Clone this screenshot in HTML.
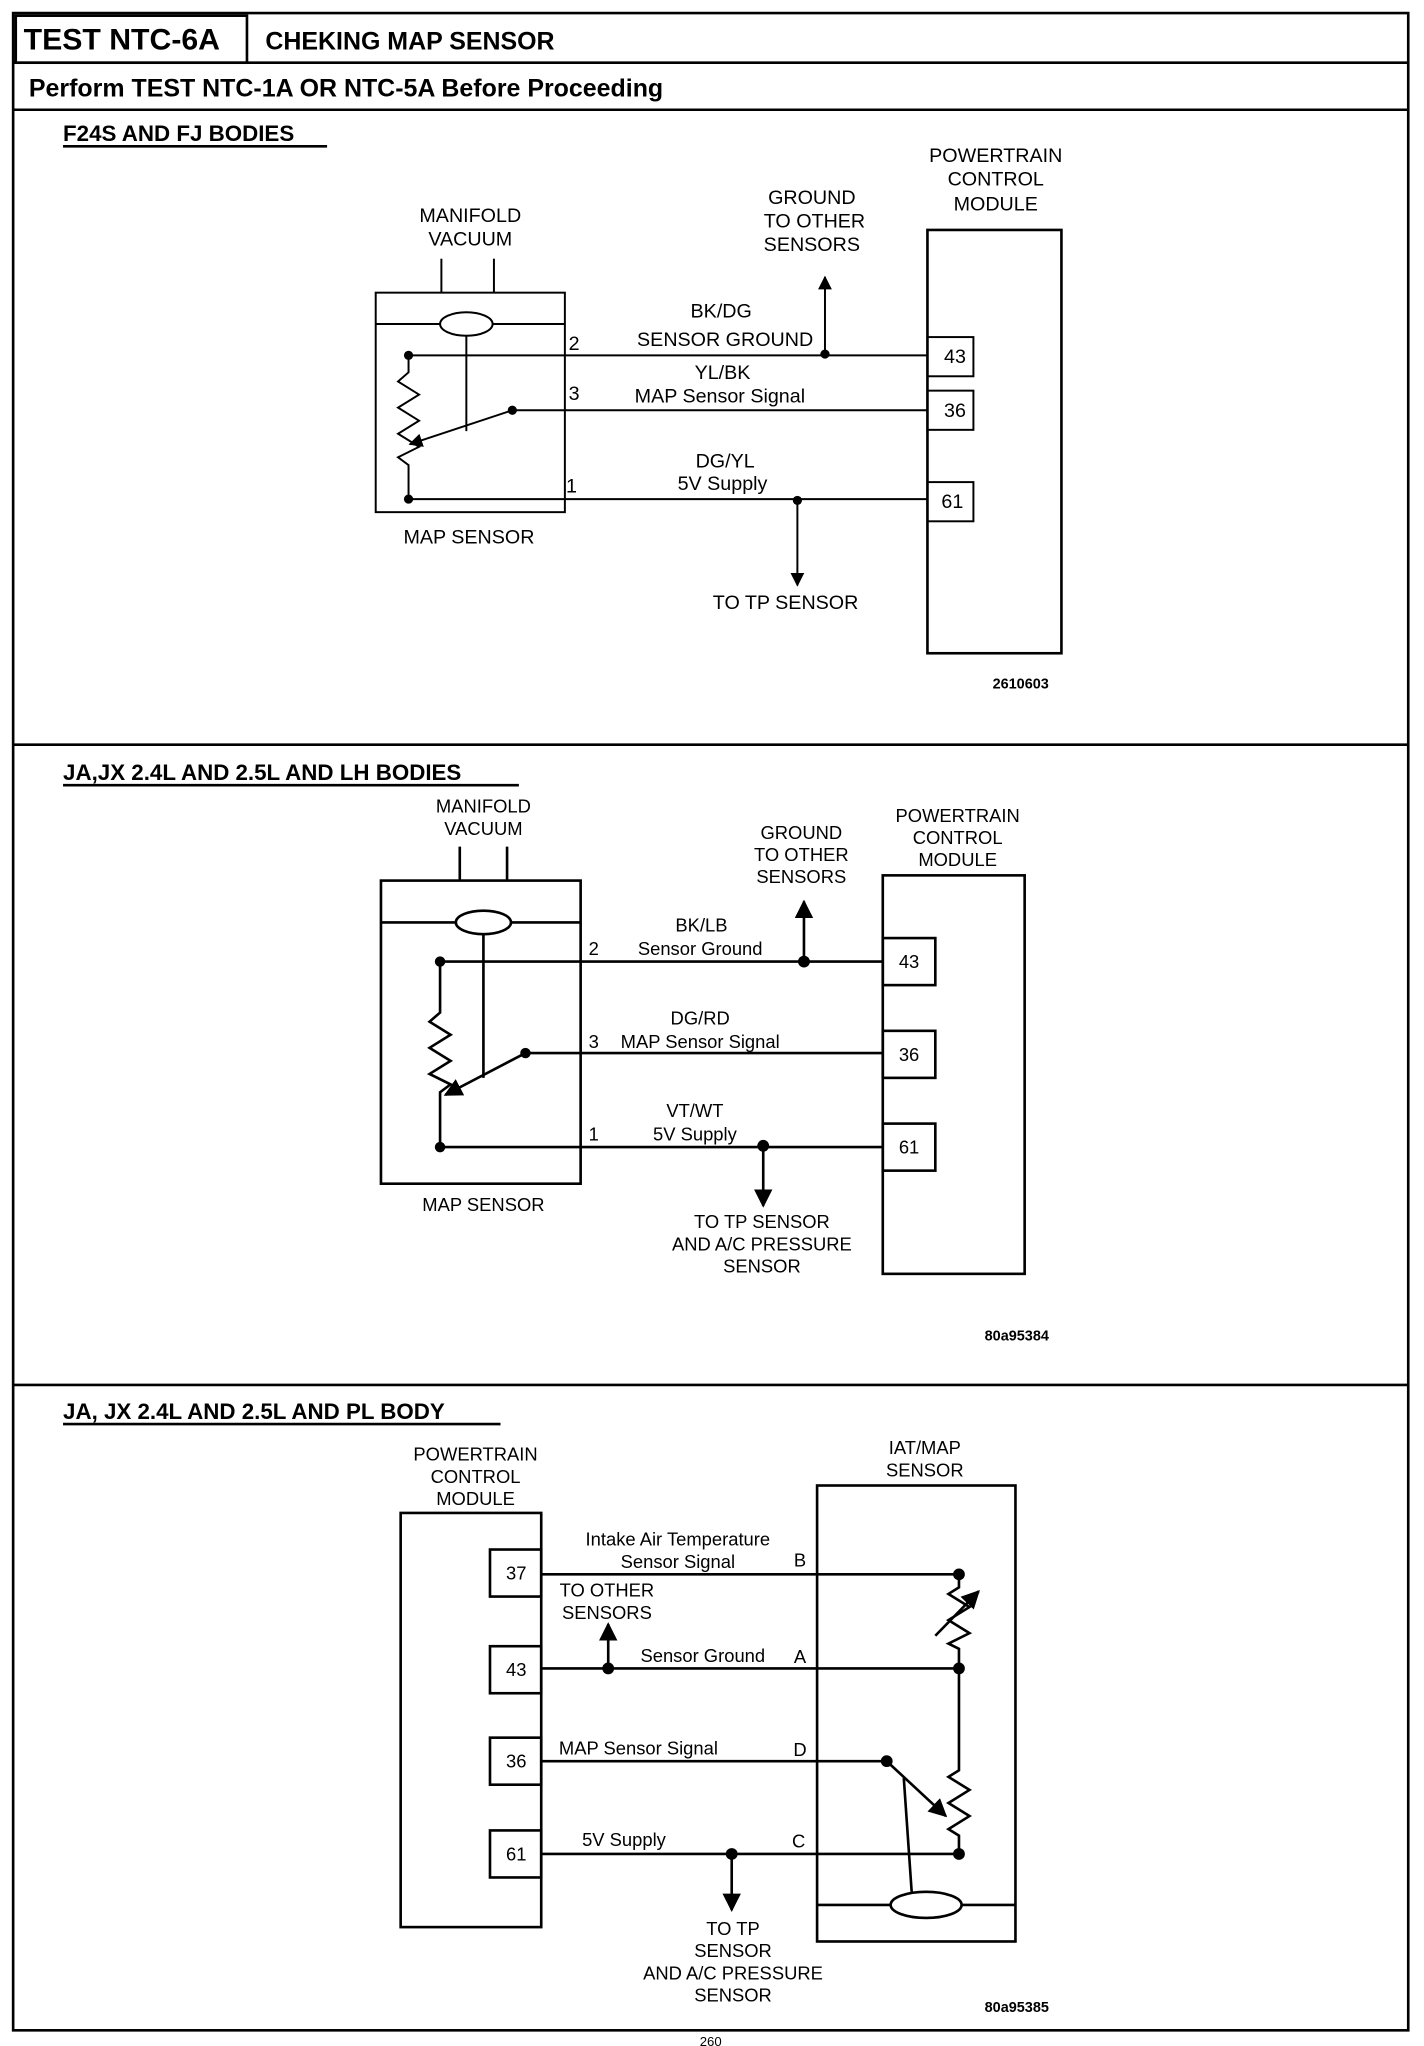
<!DOCTYPE html>
<html><head><meta charset="utf-8"><style>
html,body{margin:0;padding:0;background:#fff}
svg{display:block}
text{font-family:"Liberation Sans",Arial,sans-serif;fill:#000}
</style></head><body>
<svg width="1424" height="2046" viewBox="0 0 1084 1566" preserveAspectRatio="none" xmlns="http://www.w3.org/2000/svg">
<defs>
<marker id="ah" viewBox="0 0 10 10" refX="9" refY="5" markerWidth="7" markerHeight="7" orient="auto-start-reverse"><path d="M0,0 L10,5 L0,10 z" fill="#000"/></marker>
</defs>
<g fill="none" stroke="#000" stroke-width="2">
<rect x="10" y="10" width="1062" height="1544"/>
<rect x="12" y="12" width="176" height="36"/>
<line x1="10" y1="48" x2="1072" y2="48"/>
<line x1="10" y1="84" x2="1072" y2="84"/>
<line x1="10" y1="570" x2="1072" y2="570"/>
<line x1="10" y1="1060" x2="1072" y2="1060"/>
</g>
<text x="18" y="38" font-size="23" font-weight="bold">TEST NTC-6A</text>
<text x="202" y="38" font-size="19" font-weight="bold">CHEKING MAP SENSOR</text>
<text x="22" y="74" font-size="19" font-weight="bold">Perform TEST NTC-1A OR NTC-5A Before Proceeding</text>
<text x="48" y="108" font-size="17" font-weight="bold">F24S AND FJ BODIES</text>
<line x1="48" y1="112" x2="249" y2="112" stroke="#000" stroke-width="2"/>
<text x="48" y="597" font-size="17" font-weight="bold">JA,JX 2.4L AND 2.5L AND LH BODIES</text>
<line x1="48" y1="601" x2="395" y2="601" stroke="#000" stroke-width="2"/>
<text x="48" y="1086" font-size="17" font-weight="bold">JA, JX 2.4L AND 2.5L AND PL BODY</text>
<line x1="48" y1="1090" x2="381" y2="1090" stroke="#000" stroke-width="2"/>

<!-- Panel 1 -->
<g fill="none" stroke="#000" stroke-width="1.5">
<rect x="286" y="224" width="144" height="168"/>
<line x1="336" y1="198" x2="336" y2="224"/><line x1="376" y1="198" x2="376" y2="224"/>
<line x1="286" y1="248" x2="430" y2="248"/>
<ellipse cx="355" cy="248" rx="20" ry="9" fill="#fff"/>
<line x1="355" y1="257" x2="355" y2="330"/>
<polyline points="311,272 311,285 303,292 319,302 303,312 319,322 303,332 319,342 303,350 311,356 311,382"/>
<line x1="390" y1="314" x2="312" y2="340" marker-end="url(#ah)"/>
<line x1="311" y1="272" x2="706" y2="272"/>
<line x1="390" y1="314" x2="706" y2="314"/>
<line x1="311" y1="382" x2="706" y2="382"/>
<rect x="706" y="176" width="102" height="324" stroke-width="2"/>
<rect x="706" y="258" width="35" height="30"/><rect x="706" y="299" width="35" height="30"/><rect x="706" y="369" width="35" height="30"/>
<line x1="628" y1="271" x2="628" y2="212" marker-end="url(#ah)"/>
<line x1="607" y1="383" x2="607" y2="448" marker-end="url(#ah)"/>
</g>
<g fill="#000"><circle cx="311" cy="272" r="3.5"/><circle cx="311" cy="382" r="3.5"/><circle cx="390" cy="314" r="3.5"/><circle cx="628" cy="271" r="3.5"/><circle cx="607" cy="383" r="3.5"/></g>
<g font-size="15" text-anchor="middle">
<text x="358" y="170">MANIFOLD</text><text x="358" y="188">VACUUM</text>
<text x="618" y="156">GROUND</text><text x="620" y="174">TO OTHER</text><text x="618" y="192">SENSORS</text>
<text x="758" y="124">POWERTRAIN</text><text x="758" y="142">CONTROL</text><text x="758" y="161">MODULE</text>
<text x="549" y="243">BK/DG</text><text x="552" y="265">SENSOR  GROUND</text>
<text x="550" y="290">YL/BK</text><text x="548" y="308">MAP Sensor Signal</text>
<text x="552" y="358">DG/YL</text><text x="550" y="375">5V Supply</text>
<text x="598" y="466">TO TP SENSOR</text>
<text x="357" y="416">MAP   SENSOR</text>
<text x="437" y="268">2</text><text x="437" y="306">3</text><text x="435" y="377">1</text>
<text x="727" y="278">43</text><text x="727" y="319">36</text><text x="725" y="389">61</text>
<text x="777" y="527" font-size="11" font-weight="bold">2610603</text>
</g>

<!-- Panel 2 -->
<g fill="none" stroke="#000" stroke-width="2">
<rect x="290" y="674" width="152" height="232"/>
<line x1="350" y1="648" x2="350" y2="674"/><line x1="386" y1="648" x2="386" y2="674"/>
<line x1="290" y1="706" x2="442" y2="706"/>
<ellipse cx="368" cy="706" rx="21" ry="9" fill="#fff"/>
<line x1="368" y1="715" x2="368" y2="825"/>
<polyline points="335,736 335,775 327,782 343,792 327,802 343,812 327,822 343,830 335,836 335,878"/>
<line x1="400" y1="806" x2="339" y2="838" marker-end="url(#ah)"/>
<line x1="335" y1="736" x2="672" y2="736"/>
<line x1="400" y1="806" x2="672" y2="806"/>
<line x1="335" y1="878" x2="672" y2="878"/>
<rect x="672" y="670" width="108" height="305"/>
<rect x="672" y="718" width="40" height="36"/><rect x="672" y="789" width="40" height="36"/><rect x="672" y="860" width="40" height="36"/>
<line x1="612" y1="736" x2="612" y2="690" marker-end="url(#ah)"/>
<line x1="581" y1="877" x2="581" y2="923" marker-end="url(#ah)"/>
</g>
<g fill="#000"><circle cx="335" cy="736" r="4"/><circle cx="335" cy="878" r="4"/><circle cx="400" cy="806" r="4"/><circle cx="612" cy="736" r="4.5"/><circle cx="581" cy="877" r="4.5"/></g>
<g font-size="14" text-anchor="middle">
<text x="368" y="622">MANIFOLD</text><text x="368" y="639">VACUUM</text>
<text x="610" y="642">GROUND</text><text x="610" y="659">TO OTHER</text><text x="610" y="676">SENSORS</text>
<text x="729" y="629">POWERTRAIN</text><text x="729" y="646">CONTROL</text><text x="729" y="663">MODULE</text>
<text x="534" y="713">BK/LB</text><text x="533" y="731">Sensor Ground</text>
<text x="533" y="784">DG/RD</text><text x="533" y="802">MAP Sensor Signal</text><text x="452" y="802">3</text>
<text x="529" y="855">VT/WT</text><text x="529" y="873">5V Supply</text>
<text x="452" y="731">2</text><text x="452" y="873">1</text>
<text x="580" y="940">TO TP SENSOR</text><text x="580" y="957">AND A/C PRESSURE</text><text x="580" y="974">SENSOR</text>
<text x="368" y="927">MAP SENSOR</text>
<text x="692" y="741">43</text><text x="692" y="812">36</text><text x="692" y="883">61</text>
<text x="774" y="1026" font-size="11" font-weight="bold">80a95384</text>
</g>

<!-- Panel 3 -->
<g fill="none" stroke="#000" stroke-width="2">
<rect x="305" y="1158" width="107" height="317"/>
<rect x="373" y="1186" width="39" height="36"/><rect x="373" y="1260" width="39" height="36"/><rect x="373" y="1330" width="39" height="36"/><rect x="373" y="1401" width="39" height="36"/>
<rect x="622" y="1137" width="151" height="349"/>
<line x1="622" y1="1458" x2="773" y2="1458"/>
<ellipse cx="705" cy="1458" rx="27" ry="10" fill="#fff"/>
<line x1="412" y1="1205" x2="730" y2="1205"/>
<line x1="412" y1="1277" x2="730" y2="1277"/>
<line x1="412" y1="1348" x2="675" y2="1348"/>
<line x1="412" y1="1419" x2="730" y2="1419"/>
<polyline points="730,1205 730,1215 722,1220 738,1230 722,1240 738,1250 722,1258 730,1262 730,1277 730,1355 722,1360 738,1370 722,1380 738,1390 722,1400 730,1405 730,1419"/>
<line x1="712" y1="1252" x2="745" y2="1218" marker-end="url(#ah)"/>
<line x1="675" y1="1348" x2="720" y2="1390" marker-end="url(#ah)"/>
<line x1="688" y1="1361" x2="694" y2="1448"/>
<line x1="463" y1="1277" x2="463" y2="1243" marker-end="url(#ah)"/>
<line x1="557" y1="1419" x2="557" y2="1462" marker-end="url(#ah)"/>
</g>
<g fill="#000"><circle cx="730" cy="1205" r="4.5"/><circle cx="730" cy="1277" r="4.5"/><circle cx="730" cy="1419" r="4.5"/><circle cx="675" cy="1348" r="4.5"/><circle cx="463" cy="1277" r="4.5"/><circle cx="557" cy="1419" r="4.5"/></g>
<g font-size="14" text-anchor="middle">
<text x="362" y="1118">POWERTRAIN</text><text x="362" y="1135">CONTROL</text><text x="362" y="1152">MODULE</text>
<text x="704" y="1113">IAT/MAP</text><text x="704" y="1130">SENSOR</text>
<text x="516" y="1183">Intake Air Temperature</text><text x="516" y="1200">Sensor Signal</text>
<text x="462" y="1222">TO OTHER</text><text x="462" y="1239">SENSORS</text>
<text x="535" y="1272">Sensor Ground</text>
<text x="486" y="1343">MAP Sensor Signal</text>
<text x="475" y="1413">5V Supply</text>
<text x="609" y="1199">B</text><text x="609" y="1273">A</text><text x="609" y="1344">D</text><text x="608" y="1414">C</text>
<text x="393" y="1209">37</text><text x="393" y="1283">43</text><text x="393" y="1353">36</text><text x="393" y="1424">61</text>
<text x="558" y="1481">TO TP</text><text x="558" y="1498">SENSOR</text><text x="558" y="1515">AND A/C PRESSURE</text><text x="558" y="1532">SENSOR</text>
<text x="774" y="1540" font-size="11" font-weight="bold">80a95385</text>
</g>
<text x="541" y="1566" font-size="10" text-anchor="middle">260</text>
</svg>
</body></html>
